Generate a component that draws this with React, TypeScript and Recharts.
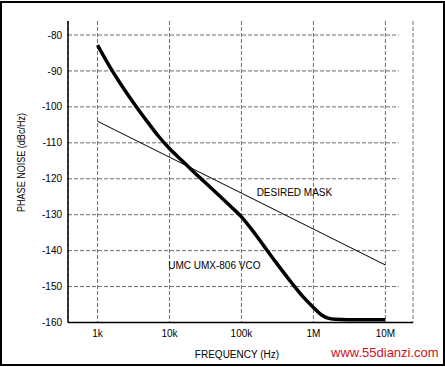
import { LineChart, Line, XAxis, YAxis, CartesianGrid, ReferenceLine, ReferenceDot } from "recharts";

// offset frequency (Hz) and phase noise (dBc/Hz)
const VCO_FREQ = [
  1e3, 1.5e3, 2e3, 3e3, 5e3, 7e3, 1e4, 1.5e4, 2e4, 3e4, 5e4, 7e4, 1e5, 1.5e5, 2e5, 3e5, 5e5, 7e5, 1e6,
  1.3e6, 1.6e6, 2e6, 3e6, 1e7,
];
const VCO_DB = [
  -82.8, -89.0, -93.0, -98.2, -104.3, -108.1, -111.6, -115.0, -117.4, -120.7, -124.8, -127.6, -130.6,
  -135.0, -138.4, -143.2, -149, -152.6, -155.8, -157.9, -158.8, -159.1, -159.2, -159.2,
];
const MASK_FREQ = [1e3, 1e4, 1e5, 1e6, 1e7];
const MASK_DB = [-104, -114, -124, -134, -144];

const X_TICKS = [1e3, 1e4, 1e5, 1e6, 1e7];
const X_LABELS = ["1k", "10k", "100k", "1M", "10M"];
const Y_TICKS = [-160, -150, -140, -130, -120, -110, -100, -90, -80];

const X_DOMAIN = [389, 24.2e6];
const Y_DOMAIN = [-160, -76.1];
const GRID_END = 15.4e6;

const vcoData = VCO_FREQ.map((f, i) => ({ f, db: VCO_DB[i] }));
const maskData = MASK_FREQ.map((f, i) => ({ f, db: MASK_DB[i] }));

const FONT = "'Liberation Sans', Arial, sans-serif";
const GRID = "#6e6e6e";

function note(text: string) {
  return {
    content: (p: any) => (
      <text x={p.viewBox.x + 1} y={p.viewBox.y + 1} fontSize={10} fontFamily={FONT} fill="#000">
        {text}
      </text>
    ),
  };
}

export default function App() {
  return (
    <div style={{ position: "absolute", left: 0, top: 0, width: 445, height: 367, background: "#fff" }}>
      <div
        style={{
          position: "absolute",
          left: 0,
          top: 1,
          width: 445,
          height: 365,
          border: "2px solid #000",
          boxSizing: "border-box",
        }}
      />
      <LineChart
        width={445}
        height={367}
        margin={{ top: 21, right: 32, left: 0, bottom: 14.5 }}
        style={{ position: "absolute", left: 0, top: 0 }}
      >
        <CartesianGrid horizontal={false} stroke={GRID} strokeDasharray="4 2" />
        {Y_TICKS.filter((v) => v > -160).map((v) => (
          <ReferenceLine
            key={v}
            segment={[
              { x: X_DOMAIN[0], y: v },
              { x: GRID_END, y: v },
            ]}
            stroke={GRID}
            strokeDasharray="4 2"
          />
        ))}
        <XAxis
          dataKey="f"
          type="number"
          scale="log"
          domain={X_DOMAIN}
          allowDataOverflow
          ticks={X_TICKS}
          tickFormatter={(v) => X_LABELS[X_TICKS.indexOf(v)] ?? ""}
          tick={{ fontSize: 10, fill: "#000", fontFamily: FONT }}
          tickLine={false}
          tickSize={5}
          tickMargin={2}
          height={30}
          axisLine={{ stroke: "#000", strokeWidth: 1.5 }}
          label={{
            content: () => (
              <text x={237} y={358} textAnchor="middle" fontSize={10} fontFamily={FONT} fill="#000">
                FREQUENCY (Hz)
              </text>
            ),
          }}
        />
        <YAxis
          type="number"
          domain={Y_DOMAIN}
          allowDataOverflow
          ticks={Y_TICKS}
          tick={{ fontSize: 10, fill: "#000", fontFamily: FONT }}
          tickLine={false}
          tickSize={4}
          tickMargin={2}
          width={68}
          axisLine={{ stroke: "#000", strokeWidth: 1.5 }}
          label={{
            content: () => (
              <text
                transform="translate(25,162.5) rotate(-90)"
                textAnchor="middle"
                fontSize={10}
                fontFamily={FONT}
                fill="#000"
                textLength={99}
                lengthAdjust="spacingAndGlyphs"
              >
                PHASE NOISE (dBc/Hz)
              </text>
            ),
          }}
        />
        <Line
          data={maskData}
          dataKey="db"
          type="linear"
          stroke="#000"
          strokeWidth={1}
          dot={false}
          isAnimationActive={false}
        />
        <Line
          data={vcoData}
          dataKey="db"
          type="monotone"
          stroke="#000"
          strokeWidth={3.5}
          dot={false}
          isAnimationActive={false}
        />
        <ReferenceDot x={162.6e3} y={-124.9} r={1} fill="none" stroke="none" label={note("DESIRED MASK")} />
        <ReferenceDot x={9.6e3} y={-145} r={1} fill="none" stroke="none" label={note("UMC UMX-806 VCO")} />
      </LineChart>
      <div
        style={{
          position: "absolute",
          left: 331,
          top: 345,
          fontFamily: FONT,
          fontSize: 13,
          lineHeight: "15px",
          color: "#d0101e",
          whiteSpace: "nowrap",
        }}
      >
        www.55dianzi.com
      </div>
    </div>
  );
}
